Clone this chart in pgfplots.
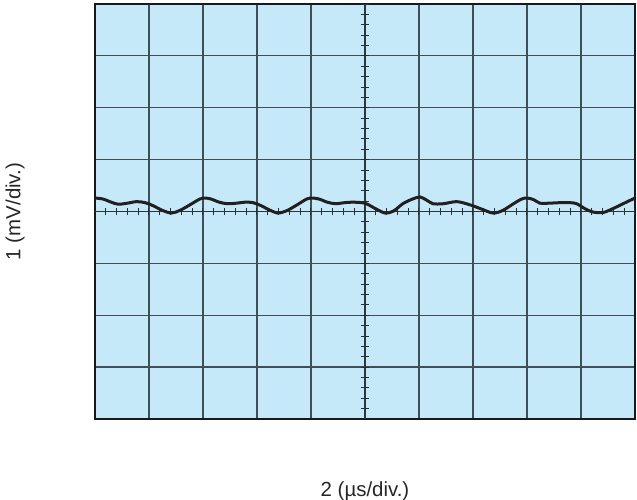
\documentclass[border=0pt]{standalone}
\usepackage{pgfplots}
\pgfplotsset{compat=1.18}
\usepackage{fontspec}
\setmainfont{Liberation Sans}
\definecolor{scrbg}{HTML}{C6E9F9}
\definecolor{gridc}{HTML}{3F4E57}
\definecolor{trace}{HTML}{231F20}
\pgfplotstableread{
x y
0.00 0.26
0.15 0.24
0.30 0.18
0.43 0.14
0.60 0.16
0.77 0.19
0.93 0.17
1.08 0.11
1.23 0.03
1.41 -0.03
1.57 0.02
1.76 0.13
1.94 0.24
2.04 0.26
2.15 0.24
2.30 0.18
2.45 0.15
2.62 0.16
2.78 0.18
2.93 0.17
3.08 0.11
3.23 0.03
3.39 -0.03
3.56 0.02
3.76 0.14
3.92 0.24
4.02 0.26
4.15 0.24
4.30 0.18
4.45 0.15
4.62 0.17
4.78 0.18
5.00 0.16
5.15 0.08
5.37 -0.03
5.53 0.01
5.70 0.15
5.88 0.24
6.02 0.28
6.14 0.22
6.26 0.15
6.45 0.15
6.70 0.19
6.94 0.13
7.15 0.05
7.37 -0.03
7.55 0.02
7.75 0.15
7.90 0.24
8.00 0.26
8.12 0.23
8.24 0.16
8.40 0.16
8.61 0.17
8.80 0.17
8.92 0.15
9.08 0.05
9.22 -0.01
9.41 -0.02
9.60 0.06
9.78 0.15
9.90 0.21
10.00 0.26
}\tracedata
\begin{document}
\begin{tikzpicture}
\useasboundingbox (0,0) rectangle (637bp,500bp);
\begin{axis}[
  at={(95bp,81bp)}, anchor=south west,
  scale only axis, width=540bp, height=415bp,
  xmin=0, xmax=10, ymin=-4, ymax=4,
  xtick={0,...,10}, ytick={-4,...,4},
  xticklabels={}, yticklabels={},
  major tick length=0pt,
  grid=major,
  major grid style={color=gridc, line width=1.25bp},
  axis background/.style={fill=scrbg},
  axis line style={line width=2.6bp, black!90},
  label style={font=\fontsize{20.5}{23}\selectfont, text=black!85},
  xlabel={2 (µs/div.)},
  ylabel={1 (mV/div.)},
  xlabel style={at={(axis description cs:0.5,-0.1735)}, anchor=center},
  ylabel style={at={(axis description cs:-0.148,0.5)}, anchor=center},
  clip=true,
]
\draw[gridc!70!black, line width=1.25bp] (axis cs:5,-4) -- (axis cs:5,4);
\draw[gridc!70!black, line width=1.25bp] (axis cs:0,0) -- (axis cs:10,0);
\pgfplotsinvokeforeach{0.2,0.4,...,9.9}{
  \draw[gridc!60!black, line width=1.0bp] (axis cs:#1,-0.077) -- (axis cs:#1,0.077);
}
\pgfplotsinvokeforeach{-3.8,-3.6,...,3.9}{
  \draw[gridc!60!black, line width=1.0bp] (axis cs:4.926,#1) -- (axis cs:5.074,#1);
}
\addplot[trace, line width=3bp, smooth, tension=0.5] table[x=x,y=y] {\tracedata};
\end{axis}
\end{tikzpicture}
\end{document}
